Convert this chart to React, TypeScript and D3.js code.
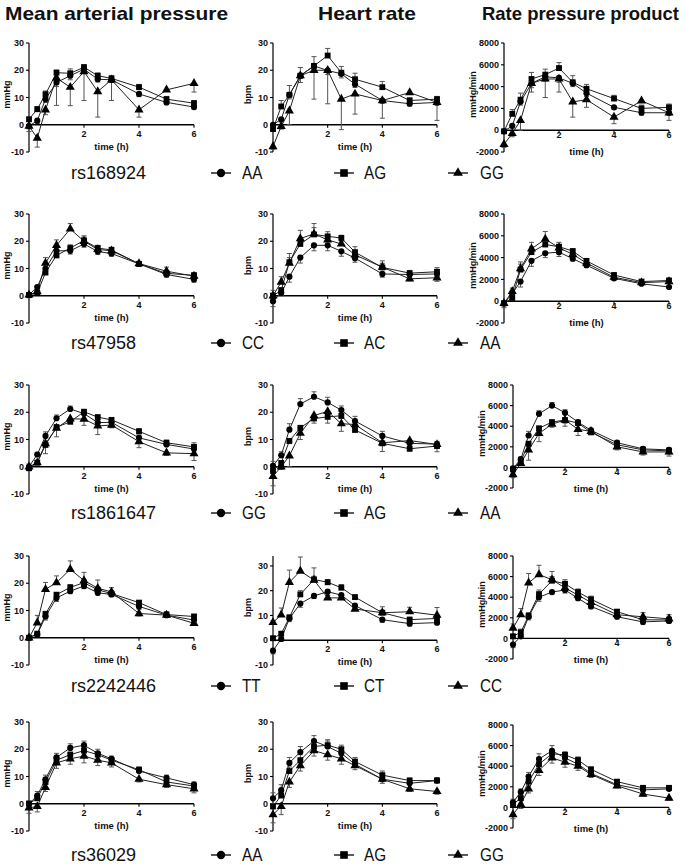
import React from "react";
import * as d3 from "d3";

// ---------- data ----------
const times = [0, 0.3, 0.6, 1, 1.5, 2, 2.5, 3, 4, 5, 6];
const measures = ["Mean arterial pressure", "Heart rate", "Rate pressure product"];
const yTitles = ["mmHg", "bpm", "mmHg/min"];
const snps = ["rs168924", "rs47958", "rs1861647", "rs2242446", "rs36029"];
const genotypes = [
  ["AA", "AG", "GG"],
  ["CC", "AC", "AA"],
  ["GG", "AG", "AA"],
  ["TT", "CT", "CC"],
  ["AA", "AG", "GG"],
];
const smallTicks = [-10, 0, 10, 20, 30];
const rppTicks = [-2000, 0, 2000, 4000, 6000, 8000];
const xTicks = [2, 4, 6];

// Row 1 rs168924 (circle AA, square AG, triangle GG)
const map1C = [-0.5, 1.5, 9.4, 15.5, 18, 20.4, 16.7, 16.5, 11.3, 8.2, 6.5];
const map1CErr = [-1, -1, -1.2, -1.5, -1.5, -1.2, -1, -1, -1, -0.8, -0.8];
const map1S = [2, 5.7, 11.2, 19.1, 18.9, 21.1, 18, 17, 13.8, 9.4, 7.9];
const map1SErr = [0.8, 1, 1.2, 1, 1.6, 1, 1, 1, 1, 1, 1];
const map1T = [-0.5, -4.9, 5.5, 17.1, 13.8, 19.5, 12.2, 16.5, 5.5, 12.8, 15.2];
const map1TErr = [-2, -3.3, -1.8, -10, -6.8, -10.6, -9.4, -7.6, -2.7, -0.5, -3.2];
const hr1C = [0, 2, 11, 18, 21.6, 19.9, 18.7, 14.9, 8.9, 7.7, 8.2];
const hr1CErr = [-1, -1, -1.5, -2.5, -2, -1.5, -1.5, -1.2, -1, -0.8, -1];
const hr1S = [-1.6, 6.7, 11, 18, 21.6, 25.4, 19.1, 16.7, 13.8, 8.9, 9.4];
const hr1SErr = [1, 2.2, 3.4, 3, 3.4, 2.6, 2.3, 2.2, 2.1, 1, 1];
const hr1T = [-8, -0.6, 5.1, 18, 20, 20, 9.4, 11.3, 8.9, 11.8, 8.2];
const hr1TErr = [-1, -1, -5.1, -2.5, -10.6, -12.3, -11.2, -7.4, -6.5, -0.5, -6.6];
const rpp1C = [-100, 400, 2600, 4300, 4900, 4800, 4300, 3400, 2100, 1600, 1600];
const rpp1CErr = [-200, -200, -300, -400, -400, -400, -300, -300, -200, -200, -200];
const rpp1S = [-100, 1500, 2800, 4700, 5100, 5700, 4400, 3800, 2900, 2000, 2100];
const rpp1SErr = [100, 400, 600, 600, 500, 500, 600, 400, 300, 300, 300];
const rpp1T = [-1300, -300, 900, 4300, 4700, 4700, 2600, 2800, 1200, 2700, 1600];
const rpp1TErr = [-300, -300, -900, -800, -1700, -1200, -1400, -700, -600, -100, -700];

// Row 2 rs47958 (circle CC, square AC, triangle AA)
const map2C = [0.3, 3.2, 10, 16.5, 16.5, 19, 16.2, 15.5, 11.7, 7.8, 6];
const map2CErr = [-1, -0.8, -1.5, -1.3, -1.2, -1.2, -1, -1, -0.8, -1, -1];
const map2S = [0.3, 1, 8.5, 14.8, 17.5, 20.3, 17.5, 16.8, 11.7, 8.2, 7.5];
const map2SErr = [0.5, 0.8, 1.2, 1.2, 1.2, 1.7, 1, 1, 0.8, 1, 1];
const map2T = [0.3, 1.5, 12, 18.5, 24.5, 20, 17, 16.5, 11.8, 9, 7.2];
const map2TErr = [0.5, 0.8, 2, 2, 2, 1.5, 1, 1, 0.8, 1.5, 1];
const hr2C = [-2, 1, 7, 14, 18.5, 18.5, 16.3, 13.8, 8, 7.8, 8];
const hr2CErr = [-2, -1, -2, -2, -2, -2, -1.8, -1.5, -1.2, -0.8, -1];
const hr2S = [0, 2, 12.3, 19, 22.5, 21.8, 21.2, 16, 10.4, 8.3, 8.8];
const hr2SErr = [1, 1, 3.2, 2, 2.5, 1.7, 1, 2, 1.5, 1, 1.5];
const hr2T = [0, 5, 12, 21, 22.7, 20.5, 19, 15, 10.5, 6.2, 6.6];
const hr2TErr = [2, 2, 2, 3, 3.8, 1.5, 1, 1, 2.3, -0.7, -1.3];
const rpp2C = [-200, 700, 1800, 3700, 4400, 4500, 3900, 3300, 2100, 1600, 1300];
const rpp2CErr = [-400, -300, -500, -500, -400, -400, -200, -200, -200, -100, -100];
const rpp2S = [-200, 300, 2900, 4500, 5200, 5000, 4600, 3700, 2400, 1800, 1900];
const rpp2SErr = [200, 300, 500, 500, 400, 400, 200, 200, 200, 100, 200];
const rpp2T = [-200, 900, 3000, 4800, 5700, 4900, 4300, 3500, 2200, 1700, 1800];
const rpp2TErr = [200, 300, 600, 600, 700, 300, 200, 200, 200, 100, 100];

// Row 3 rs1861647 (circle GG, square AG, triangle AA)
const map3C = [0, 4.5, 11.3, 17.8, 21.2, 19.5, 16.2, 16.3, 10.6, 8.2, 6.5];
const map3CErr = [1, 0.8, 1.5, 1.2, 1.1, 1, 1, 1, 1, 1, 1];
const map3S = [-0.5, 1.5, 8, 14.5, 16.5, 20.2, 18.2, 17.2, 13, 8.8, 7.3];
const map3SErr = [-1, 0.8, 1, 1, 1, 0.8, 0.8, 0.8, 1, 1, 1.5];
const map3T = [0, 1.5, 8.5, 14.2, 17.6, 17.5, 15, 15.3, 9.2, 5.1, 4.8];
const map3TErr = [-1, -0.8, -3.7, -3.2, -1.2, -2.3, -3.2, -1, -2.2, -0.9, -2.5];
const hr3C = [0.3, 4.2, 13.6, 23, 25.7, 23.6, 20.8, 16.8, 11.3, 8.6, 8.3];
const hr3CErr = [1.7, 1.3, 2.2, 2, 1.8, 1.9, 1.5, 1.7, 1.7, 1, 1];
const hr3S = [-1.5, 1.4, 9.5, 14.3, 17.7, 18.3, 18.7, 13.5, 8.6, 6.6, 7.6];
const hr3SErr = [-1, -1, -1, -1, -1.7, -2.3, -1, -0.7, -3, -0.8, -2.1];
const hr3T = [-3.5, 0, 4, 12.3, 18.8, 20.3, 15.8, 15.5, 8.8, 9.6, 8.2];
const hr3TErr = [-3.5, -1, -4, -2.3, -1, -1, -2.8, -1, -1, -0.8, -1];
const rpp3C = [-100, 800, 3100, 5200, 6000, 5300, 4400, 3600, 2400, 1800, 1700];
const rpp3CErr = [200, 200, 400, 300, 300, 300, 200, 200, 200, 200, 200];
const rpp3S = [-200, 600, 2300, 3800, 4400, 4600, 4300, 3400, 2200, 1700, 1600];
const rpp3SErr = [-200, -200, -300, -400, -300, -600, -200, -200, -200, -300, -300];
const rpp3T = [-700, 400, 1700, 3300, 4200, 4600, 3700, 3500, 2000, 1500, 1500];
const rpp3TErr = [-300, -200, -1000, -800, -300, -300, -600, -200, -300, -300, -400];

// Row 4 rs2242446 (circle TT, square CT, triangle CC)
const map4C = [0, 1.2, 7.8, 14.6, 17.1, 19, 16.5, 15.9, 11.5, 8.3, 6.5];
const map4CErr = [-0.5, -0.5, -1.3, -1.3, -0.8, -1, -0.8, -0.8, -1, -0.8, -0.8];
const map4S = [0, 1.5, 8.7, 15.8, 18.5, 20.2, 17.6, 16.2, 12.9, 8.5, 7.8];
const map4SErr = [0.5, 0.5, 1, 0.8, 1, 1, 0.8, 0.8, 0.7, 1, 0.8];
const map4T = [0, 5.5, 17.8, 20.2, 25.1, 21, 18.2, 16.8, 8.9, 8.3, 5.3];
const map4TErr = [0.5, 2.7, 2.5, 2.5, 3.1, 3, 3, 1.6, -0.9, 1, -0.8];
const hr4C = [-4.2, 0.5, 8.8, 14.8, 17.9, 19.6, 18.2, 14, 8.3, 6.7, 7.1];
const hr4CErr = [-1.3, -1, -1.3, -1.5, -1.1, -1.5, -1.2, -1.2, -1, -0.9, -0.8];
const hr4S = [0.8, 2.6, 9.2, 18.5, 24.5, 23.4, 21.2, 17.4, 11.1, 8.3, 8.8];
const hr4SErr = [0.8, 1, 1, 1.5, 1.3, 1.1, 1.3, 0.8, 1, 1, 1];
const hr4T = [7.2, 10.2, 23.4, 27.9, 24.3, 17.1, 17.1, 12.6, 11.1, 11.5, 10.1];
const hr4TErr = [0.8, 2.8, 4.9, 5.7, 4.9, 1, 1, 0.8, 2.4, 1.8, 3.1];
const rpp4C = [-600, 200, 2100, 4000, 4500, 4700, 3900, 3100, 2100, 1600, 1700];
const rpp4CErr = [-300, -200, -300, -400, -200, -300, -200, -200, -200, -200, -200];
const rpp4S = [200, 600, 2200, 4300, 5600, 5300, 4500, 3800, 2600, 1800, 1800];
const rpp4SErr = [200, 300, 300, 400, 400, 400, 300, 300, 200, 300, 300];
const rpp4T = [1000, 2300, 5400, 6200, 5700, 4900, 4200, 3500, 2300, 2100, 1900];
const rpp4TErr = [400, 600, 900, 900, 800, 300, 300, 300, 200, 400, 400];

// Row 5 rs36029 (circle AA, square AG, triangle GG)
const map5C = [0, 3, 9, 17, 20.5, 21.5, 18.5, 16.5, 12, 9.5, 7];
const map5CErr = [1, 1.5, 1.5, 1.5, 1.5, 1.5, 1.5, 1, 1, 1, 1];
const map5S = [0, 2, 8, 16, 18, 19.5, 18, 16, 12.5, 8, 6.5];
const map5SErr = [1, 1, 1, 1, 1, 1, 1, 1, 1, 1, 1];
const map5T = [-1.5, -1, 6, 15, 16.5, 17.5, 16, 15, 9, 7, 5.5];
const map5TErr = [-2, -2, -1.5, -2, -2, -2.5, -2, -1.5, -1, -1, -1.5];
const hr5C = [2, 5, 15, 19, 23, 21, 18.5, 14.5, 9, 7.5, 8.5];
const hr5CErr = [2, 2, 2, 2, 2, 2, 2, 1.5, 1.5, 1, 1];
const hr5S = [-1, 3, 12, 16, 21, 21.5, 20, 15.5, 10.5, 8.5, 8.5];
const hr5SErr = [1, 1, 1.5, 2, 2, 2, 1.5, 1.5, 1.5, 1, 1];
const hr5T = [-4, -1, 8, 14, 19.5, 18, 16.5, 14, 9, 5.5, 4.5];
const hr5TErr = [-3, -3, -2, -2, -2, -2, -2, -1.5, -1.5, -1, -1];
const rpp5C = [500, 1500, 3000, 4700, 5500, 4800, 4200, 3300, 2200, 1700, 1800];
const rpp5CErr = [300, 300, 400, 500, 500, 400, 300, 300, 200, 200, 200];
const rpp5S = [300, 900, 2500, 4200, 5200, 5100, 4600, 3700, 2500, 1900, 1900];
const rpp5SErr = [300, 300, 300, 400, 400, 300, 300, 200, 200, 200, 100];
const rpp5T = [-700, 300, 1800, 3600, 4800, 4400, 4000, 3200, 2100, 1300, 900];
const rpp5TErr = [-400, -400, -400, -500, -500, -500, -400, -300, -200, -200, -200];

// ---------- assembled tables ----------
const panelSeries = [
  [
    [[map1C, map1CErr], [map1S, map1SErr], [map1T, map1TErr]],
    [[hr1C, hr1CErr], [hr1S, hr1SErr], [hr1T, hr1TErr]],
    [[rpp1C, rpp1CErr], [rpp1S, rpp1SErr], [rpp1T, rpp1TErr]],
  ],
  [
    [[map2C, map2CErr], [map2S, map2SErr], [map2T, map2TErr]],
    [[hr2C, hr2CErr], [hr2S, hr2SErr], [hr2T, hr2TErr]],
    [[rpp2C, rpp2CErr], [rpp2S, rpp2SErr], [rpp2T, rpp2TErr]],
  ],
  [
    [[map3C, map3CErr], [map3S, map3SErr], [map3T, map3TErr]],
    [[hr3C, hr3CErr], [hr3S, hr3SErr], [hr3T, hr3TErr]],
    [[rpp3C, rpp3CErr], [rpp3S, rpp3SErr], [rpp3T, rpp3TErr]],
  ],
  [
    [[map4C, map4CErr], [map4S, map4SErr], [map4T, map4TErr]],
    [[hr4C, hr4CErr], [hr4S, hr4SErr], [hr4T, hr4TErr]],
    [[rpp4C, rpp4CErr], [rpp4S, rpp4SErr], [rpp4T, rpp4TErr]],
  ],
  [
    [[map5C, map5CErr], [map5S, map5SErr], [map5T, map5TErr]],
    [[hr5C, hr5CErr], [hr5S, hr5SErr], [hr5T, hr5TErr]],
    [[rpp5C, rpp5CErr], [rpp5S, rpp5SErr], [rpp5T, rpp5TErr]],
  ],
];

// ---------- layout ----------
const W = 685;
const H = 866;
const FONT = "'Liberation Sans', Arial, Helvetica, sans-serif";
const rowTop = [43, 214, 385, 556, 722];
const legendY = [173, 343, 513, 686, 855];

const symbolTypes = [d3.symbolCircle, d3.symbolSquare, d3.symbolTriangle];
const symbolSizes = [30, 34, 36];
const legendSizes = [55, 58, 42];

function panelGeom(row: number, col: number) {
  let x0 = [29, 273, 504][col];
  const x1 = [194, 437, 669][col];
  let h = 109;
  if (col === 2 && row >= 2) {
    x0 = 513;
    h = 103;
  }
  let top = rowTop[row];
  if (col === 2 && row === 4) top = 725;
  let domain: [number, number] = col === 2 ? [-2000, 8000] : [-10, 30];
  if (row === 3 && col === 1) domain = [-10, 34];
  return { x0, x1, top, h, domain };
}

function Panel({ row, col }: { row: number; col: number }) {
  const g = panelGeom(row, col);
  const x = d3.scaleLinear().domain([0, 6]).range([g.x0, g.x1]);
  const y = d3.scaleLinear().domain(g.domain).range([g.top + g.h, g.top]);
  const ticks = col === 2 ? rppTicks : smallTicks;
  const series = panelSeries[row][col];
  const line = d3
    .line<number>()
    .x((_, i) => x(times[i]))
    .y((d) => y(d));
  const y0 = y(0);
  const tickLabelDy = col === 2 ? 8 : 12;
  return (
    <g>
      {/* y axis */}
      <line x1={g.x0} x2={g.x0} y1={y(g.domain[0])} y2={y(g.domain[1])} stroke="#000" strokeWidth={1.2} />
      {ticks.map((t) => (
        <g key={t}>
          <line x1={g.x0 - 3} x2={g.x0} y1={y(t)} y2={y(t)} stroke="#000" strokeWidth={1.1} />
          <text
            x={g.x0 - 5}
            y={y(t)}
            dy="0.35em"
            textAnchor="end"
            fontSize={9}
            fontWeight="bold"
            fontFamily={FONT}
            fill="#111"
          >
            {t}
          </text>
        </g>
      ))}
      <text
        transform={`translate(${g.x0 - (col === 2 ? 31 : col === 1 ? 25 : 22)},${g.top + g.h / 2 - 3}) rotate(-90)`}
        textAnchor="middle"
        dy="0.35em"
        fontSize={9}
        fontWeight="bold"
        fontFamily={FONT}
        fill="#111"
      >
        {yTitles[col]}
      </text>
      {/* x axis */}
      <line x1={g.x0} x2={g.x1} y1={y0} y2={y0} stroke="#000" strokeWidth={1.4} />
      {xTicks.map((t) => (
        <g key={t}>
          <line x1={x(t)} x2={x(t)} y1={y0} y2={y0 + 3} stroke="#000" strokeWidth={1.1} />
          <text
            x={x(t)}
            y={y0 + tickLabelDy}
            textAnchor="middle"
            fontSize={9}
            fontWeight="bold"
            fontFamily={FONT}
            fill="#111"
          >
            {t}
          </text>
        </g>
      ))}
      <text
        x={(g.x0 + g.x1) / 2}
        y={y0 + 25}
        textAnchor="middle"
        fontSize={9.5}
        fontWeight="bold"
        fontFamily={FONT}
        fill="#111"
      >
        time (h)
      </text>
      {/* error bars */}
      {series.map(([vals, errs], si) => (
        <g key={"e" + si} stroke="#555" strokeWidth={1}>
          {vals.map((v, i) => {
            const e = errs[i];
            const ye = y(v + e);
            return (
              <g key={i}>
                <line x1={x(times[i])} x2={x(times[i])} y1={y(v)} y2={ye} />
                <line x1={x(times[i]) - 2.5} x2={x(times[i]) + 2.5} y1={ye} y2={ye} />
              </g>
            );
          })}
        </g>
      ))}
      {/* lines */}
      {series.map(([vals], si) => (
        <path key={"l" + si} d={line(vals) || ""} fill="none" stroke="#222" strokeWidth={1} />
      ))}
      {/* markers */}
      {series.map(([vals], si) => (
        <g key={"m" + si} fill="#000">
          {vals.map((v, i) => (
            <path
              key={i}
              transform={`translate(${x(times[i])},${y(v)})`}
              d={d3.symbol().type(symbolTypes[si]).size(symbolSizes[si])() || ""}
            />
          ))}
        </g>
      ))}
    </g>
  );
}

function Legend({ row }: { row: number }) {
  const ly = legendY[row];
  const markerX = [221, 344, 458];
  const textX = [242, 364, 480];
  return (
    <g>
      <text x={71} y={ly} dy="0.36em" fontSize={18} fontFamily={FONT} fill="#111">
        {snps[row]}
      </text>
      {genotypes[row].map((gname, si) => (
        <g key={gname + si}>
          <line x1={markerX[si] - 10} x2={markerX[si] + 10} y1={ly} y2={ly} stroke="#000" strokeWidth={1.3} />
          <path
            transform={`translate(${markerX[si]},${ly})`}
            d={d3.symbol().type(symbolTypes[si]).size(legendSizes[si])() || ""}
            fill="#000"
          />
          <text
            transform={`translate(${textX[si]},${ly}) scale(0.85,1)`}
            dy="0.36em"
            fontSize={18}
            fontFamily={FONT}
            fill="#111"
          >
            {gname}
          </text>
        </g>
      ))}
    </g>
  );
}

export default function App() {
  const headerX = [5, 318, 482];
  const headerLen = [223, 98, 197];
  return (
    <svg
      width={W}
      height={H}
      viewBox={`0 0 ${W} ${H}`}
      style={{ position: "absolute", left: 0, top: 0, background: "#fff" }}
    >
      <rect width={W} height={H} fill="#fff" />
      {measures.map((m, i) => (
        <text
          key={m}
          x={headerX[i]}
          y={20}
          fontSize={19}
          fontWeight="bold"
          fontFamily={FONT}
          textLength={headerLen[i]}
          lengthAdjust="spacingAndGlyphs"
          fill="#111"
        >
          {m}
        </text>
      ))}
      {snps.map((s, row) => (
        <g key={s}>
          {[0, 1, 2].map((col) => (
            <Panel key={col} row={row} col={col} />
          ))}
          <Legend row={row} />
        </g>
      ))}
    </svg>
  );
}
